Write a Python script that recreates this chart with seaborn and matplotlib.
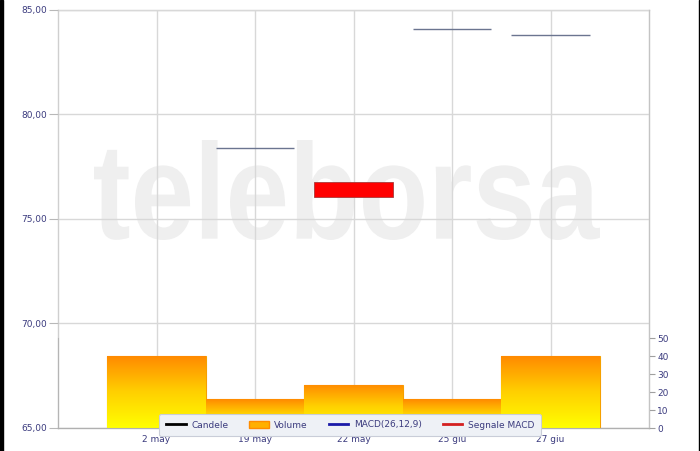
import numpy as np
import pandas as pd
import matplotlib
matplotlib.use("Agg")
import matplotlib.pyplot as plt
import seaborn as sns
from matplotlib.colors import LinearSegmentedColormap
from matplotlib.lines import Line2D
from matplotlib.patches import Patch, PathPatch, Rectangle
from matplotlib.textpath import TextPath
from matplotlib.font_manager import FontProperties
from matplotlib.transforms import Affine2D

# ---- data ----
dates = ["2 may", "19 may", "22 may", "25 giu", "27 giu"]
open_px = [np.nan, 78.40, 76.75, 84.08, 83.82]
close_px = [np.nan, 78.40, 76.05, 84.08, 83.82]
volume = [40, 16, 24, 16, 40]
price_ticks = [65, 70, 75, 80, 85]
volume_ticks = [0, 10, 20, 30, 40, 50]
legend_labels = ["Candele", "Volume", "MACD(26,12,9)", "Segnale MACD"]

NAVY = "#3b3b7e"
GRID = "#d8d8d8"

W, H = 700, 451
fig = plt.figure(figsize=(W / 100, H / 100), dpi=100)
fig.patch.set_facecolor("white")

L, R, T, B = 58, 649, 10, 428
ax = fig.add_axes([L / W, 1 - B / H, (R - L) / W, (B - T) / H])
ax.set_facecolor("white")

# ---- watermark ----
tp = TextPath((0, 0), "teleborsa", prop=FontProperties(family="Liberation Sans", weight="bold"))
ext = tp.get_extents()
x0f, x1f = 94 / W, 600 / W
ytop, ybot = 140, 240
sx = (x1f - x0f) / ext.width
sy = ((ybot - ytop) / H) / ext.height
tr = Affine2D().translate(-ext.x0, -ext.y0).scale(sx, sy).translate(x0f, 1 - ybot / H) + fig.transFigure
wm = PathPatch(tp, transform=tr, facecolor="#efefef", edgecolor="none", zorder=0.3)
ax.add_artist(wm)

# ---- candles ----
o = np.array(open_px, dtype=float)
c = np.array(close_px, dtype=float)
bottoms = np.fmin(o, c)
heights = np.abs(c - o)
face = []
edge = []
lws = []
for oo, cc in zip(o, c):
    if np.isnan(oo):
        face.append("none"); edge.append("none"); lws.append(0)
    elif cc < oo:
        face.append("#ff0000"); edge.append("#a83a3a"); lws.append(0.6)
    elif cc > oo:
        face.append("#00c000"); edge.append("#2a7a2a"); lws.append(0.6)
    else:
        face.append("none"); edge.append("#6b7590"); lws.append(1.0)
ax.bar(dates, heights, bottom=bottoms, width=0.8, color=face, edgecolor=edge,
       linewidth=lws, zorder=3)

ax.set_xlim(-1, 5)
ax.set_ylim(65, 85)
ax.set_yticks(price_ticks)
ax.set_yticklabels([f"{v:.2f}".replace(".", ",") for v in price_ticks])
ax.grid(True, color=GRID, lw=1)
ax.set_axisbelow(False)
for gl in ax.get_xgridlines() + ax.get_ygridlines():
    gl.set_zorder(0.5)
for s in ax.spines.values():
    s.set_color("#cfcfcf")
    s.set_linewidth(1)
ax.tick_params(axis="y", length=6.5, width=0.8, color="#b8b8b8", labelcolor=NAVY,
               labelsize=6.5, pad=1.5)
ax.tick_params(axis="x", length=0, labelcolor=NAVY, labelsize=6.5, pad=5)

# ---- volume ----
ax2 = ax.twinx()
vol_df = pd.DataFrame({"date": dates, "volume": volume})
sns.barplot(data=vol_df, x="date", y="volume", order=dates, color="#ff9900",
            width=1.0, ax=ax2, saturation=1, zorder=2, edgecolor="#f5a000", linewidth=0.8)
cmap = LinearSegmentedColormap.from_list("vol", ["#ffff00", "#ffd000", "#ff8a00"])
grad = np.linspace(0, 1, 256).reshape(-1, 1)
for p in list(ax2.patches):
    px, pw, ph = p.get_x(), p.get_width(), p.get_height()
    im = ax2.imshow(grad, extent=[px, px + pw, 0, ph], origin="lower", aspect="auto",
                    cmap=cmap, zorder=2.5)
    im.set_clip_path(p)

ax2.set_xlim(-1, 5)
ax2.set_ylim(0, 50 * (B - T) / (B - 338))
ax2.set_yticks(volume_ticks)
ax2.set_yticklabels([str(v) for v in volume_ticks])
ax2.set_xlabel("")
ax2.set_ylabel("")
ax.set_xlabel("")
ax2.spines["top"].set_visible(False)
ax2.spines["left"].set_bounds(0, 50)
ax2.spines["left"].set_color("#b5b5b5")
ax2.spines["right"].set_color("#c4c4c4")
ax2.spines["bottom"].set_color("#b0b0b0")
ax2.tick_params(axis="y", length=4, width=0.8, color="#a0a0a0", labelcolor=NAVY,
                labelsize=6.5, pad=2)
ax.set_xticks(range(len(dates)))
ax.set_xticklabels(dates)

# ---- legend ----
handles = [
    Line2D([], [], color="black", lw=2),
    Patch(facecolor="#ffb000", edgecolor="#ff8c00"),
    Line2D([], [], color="#1a1aa8", lw=2),
    Line2D([], [], color="#d42020", lw=2),
]
leg = fig.legend(handles, legend_labels, loc="center", bbox_to_anchor=(350 / W, 1 - 425 / H),
                 ncol=4, fontsize=6.5, frameon=True, facecolor="#eef1f6", edgecolor="#c9cdd8",
                 fancybox=True, framealpha=1, handlelength=2.2, handleheight=0.9,
                 columnspacing=2.3, handletextpad=0.6, borderpad=0.7, labelcolor=NAVY)
leg.get_frame().set_linewidth(0.8)
leg.set_zorder(10)

# ---- frame edges ----
fig.add_artist(Rectangle((0, 0), 3 / W, 1, transform=fig.transFigure, color="black", zorder=20))
fig.add_artist(Rectangle((1 - 1 / W, 0), 1 / W, 1, transform=fig.transFigure, color="black", zorder=20))

fig.savefig("out.png", dpi=100, facecolor="white")
